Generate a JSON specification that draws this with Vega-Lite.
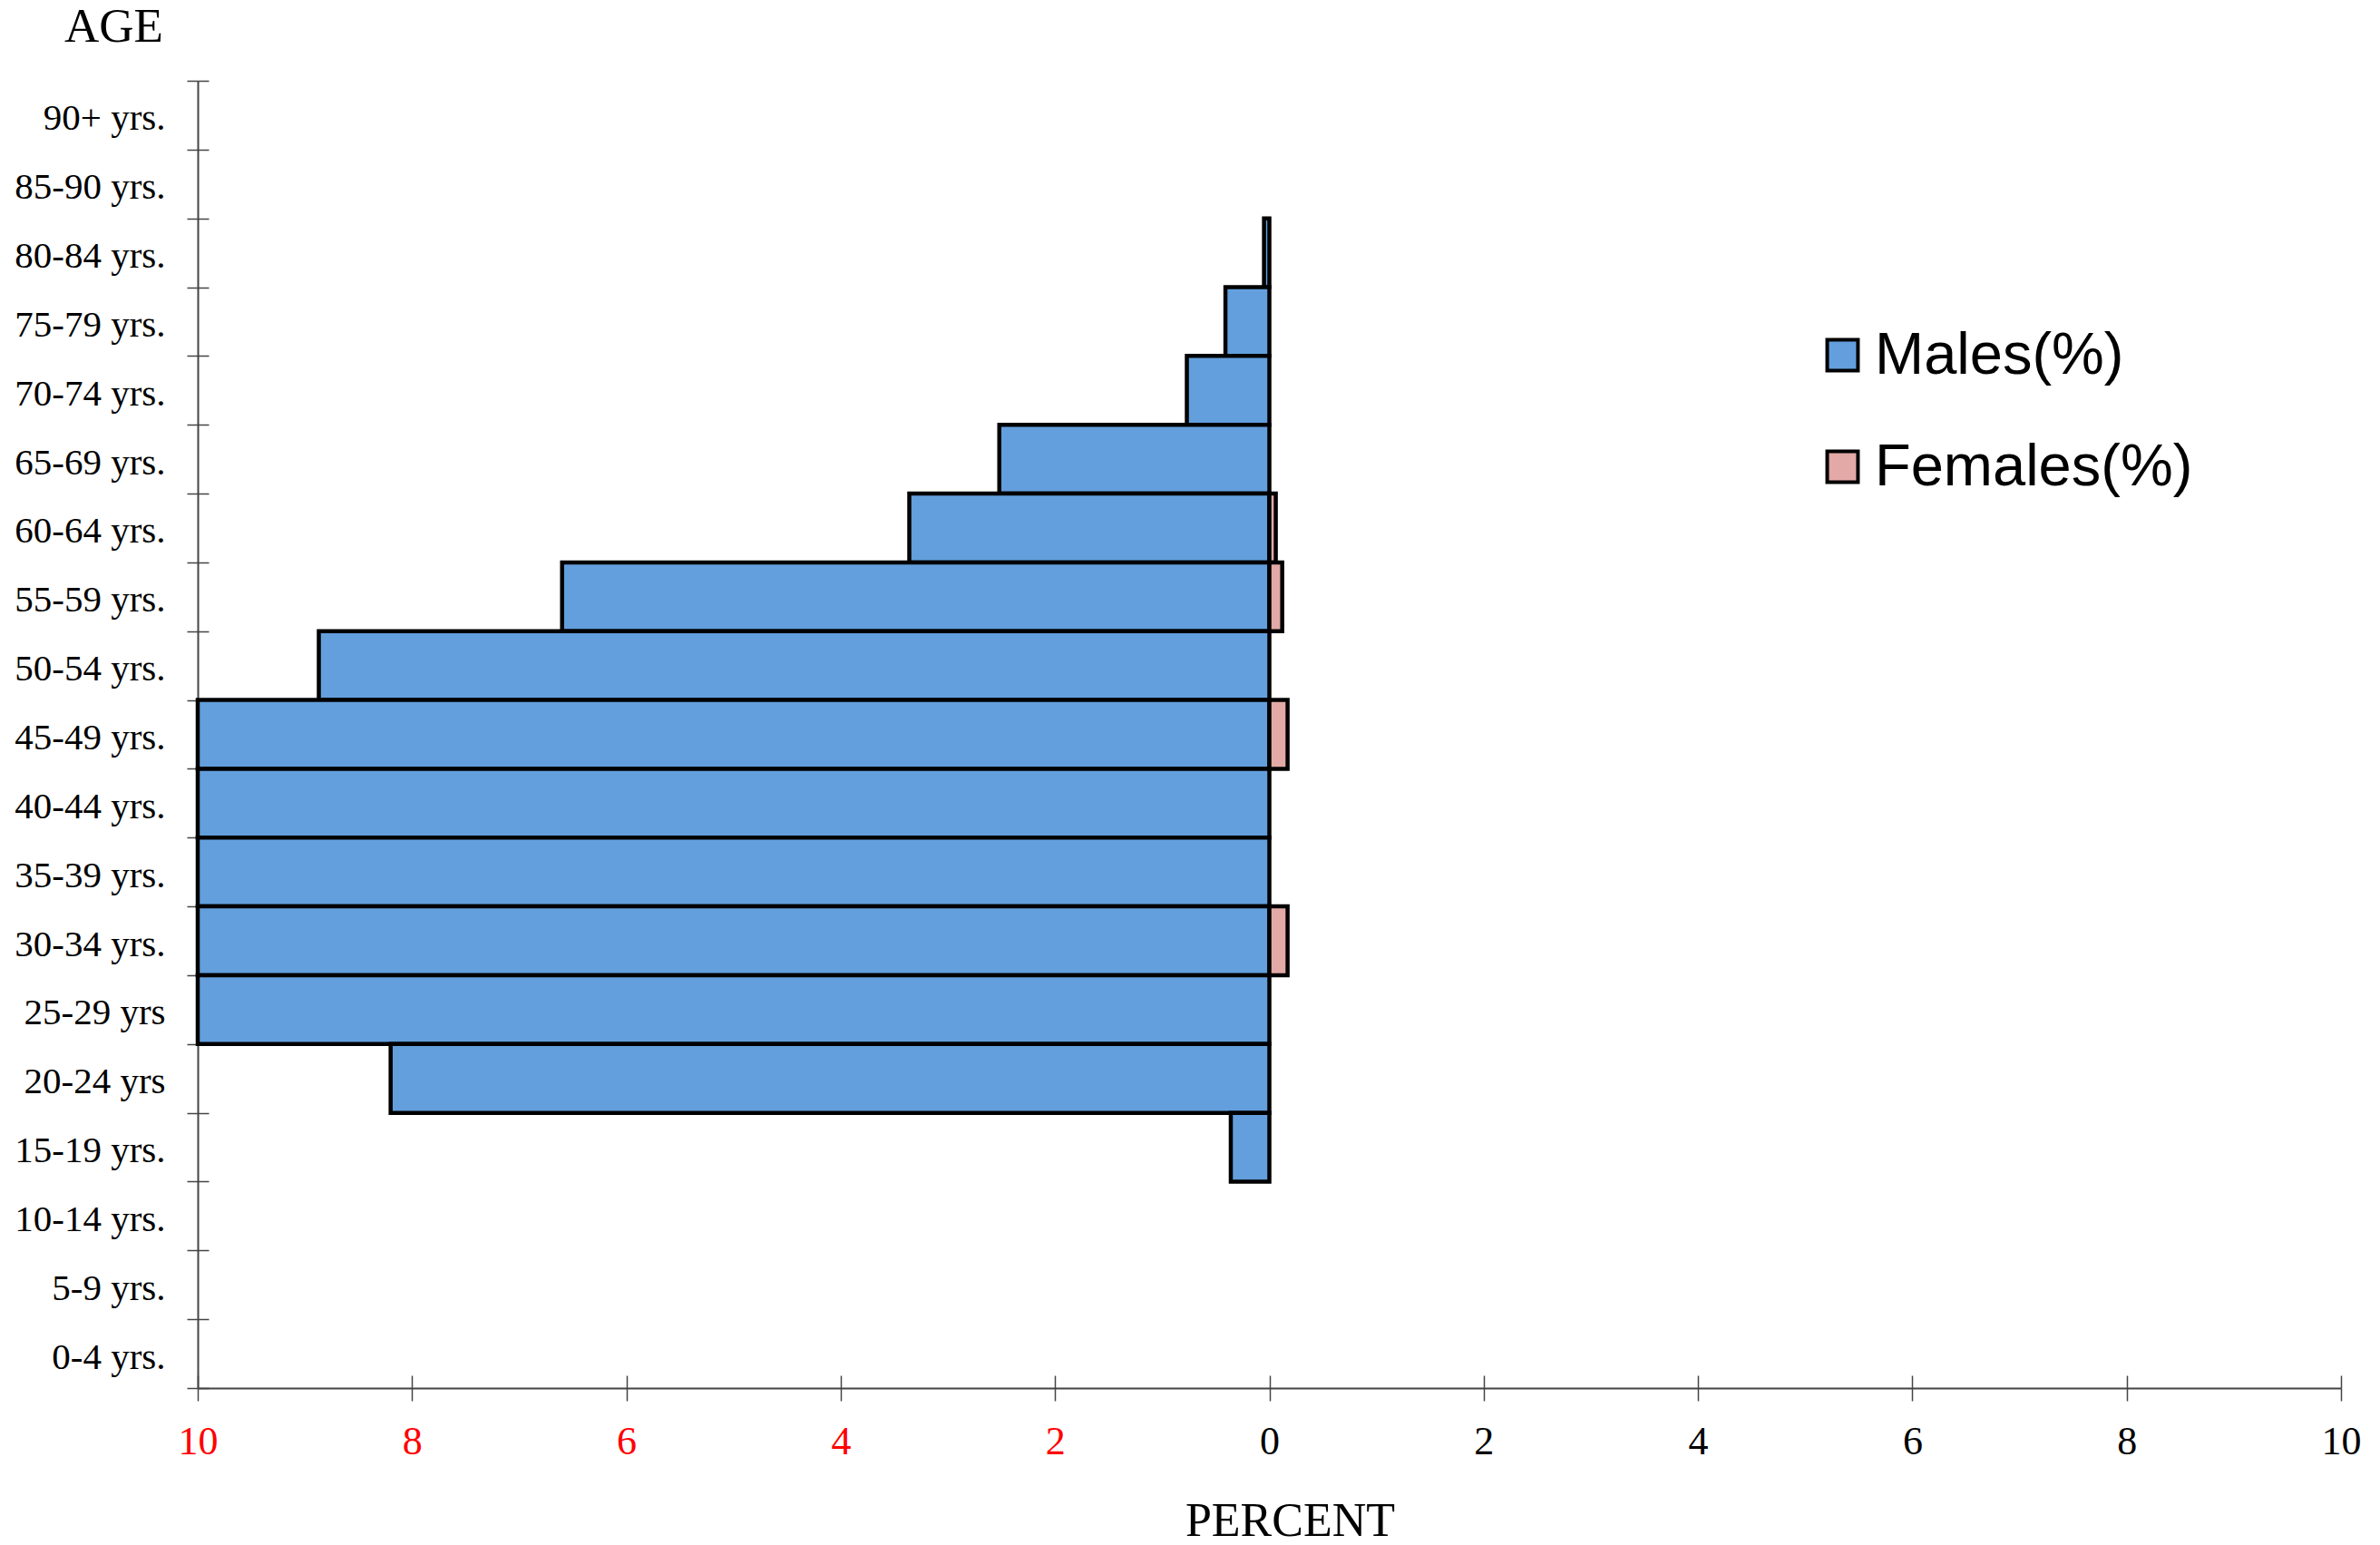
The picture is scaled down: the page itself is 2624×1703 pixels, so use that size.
{
  "$schema": "https://vega.github.io/schema/vega-lite/v6.json",
  "width": 2363,
  "height": 1441,
  "autosize": {"type": "none"},
  "padding": {"left": 218, "top": 89, "right": 43, "bottom": 173},
  "background": "white",
  "config": {"view": {"stroke": null}, "font": "Liberation Serif"},
  "data": {
    "values": [
      {"age": "80-84 yrs.", "sex": "Males(%)", "value": -0.05},
      {"age": "75-79 yrs.", "sex": "Males(%)", "value": -0.41},
      {"age": "70-74 yrs.", "sex": "Males(%)", "value": -0.77},
      {"age": "65-69 yrs.", "sex": "Males(%)", "value": -2.52},
      {"age": "60-64 yrs.", "sex": "Males(%)", "value": -3.36},
      {"age": "55-59 yrs.", "sex": "Males(%)", "value": -6.6},
      {"age": "50-54 yrs.", "sex": "Males(%)", "value": -8.87},
      {"age": "45-49 yrs.", "sex": "Males(%)", "value": -10},
      {"age": "40-44 yrs.", "sex": "Males(%)", "value": -10},
      {"age": "35-39 yrs.", "sex": "Males(%)", "value": -10},
      {"age": "30-34 yrs.", "sex": "Males(%)", "value": -10},
      {"age": "25-29 yrs", "sex": "Males(%)", "value": -10},
      {"age": "20-24 yrs", "sex": "Males(%)", "value": -8.2},
      {"age": "15-19 yrs.", "sex": "Males(%)", "value": -0.36},
      {"age": "60-64 yrs.", "sex": "Females(%)", "value": 0.06},
      {"age": "55-59 yrs.", "sex": "Females(%)", "value": 0.12},
      {"age": "45-49 yrs.", "sex": "Females(%)", "value": 0.17},
      {"age": "30-34 yrs.", "sex": "Females(%)", "value": 0.17}
    ]
  },
  "layer": [
    {
      "mark": {"type": "bar", "stroke": "black", "strokeWidth": 4.5, "orient": "horizontal"},
      "encoding": {
        "y": {
          "field": "age", "type": "nominal",
          "scale": {
            "domain": ["90+ yrs.", "85-90 yrs.", "80-84 yrs.", "75-79 yrs.", "70-74 yrs.", "65-69 yrs.", "60-64 yrs.", "55-59 yrs.", "50-54 yrs.", "45-49 yrs.", "40-44 yrs.", "35-39 yrs.", "30-34 yrs.", "25-29 yrs", "20-24 yrs", "15-19 yrs.", "10-14 yrs.", "5-9 yrs.", "0-4 yrs."],
            "paddingInner": 0, "paddingOuter": 0
          },
          "axis": {
            "title": "AGE", "titleAngle": 0, "titleX": -93, "titleY": -60,
            "titleAlign": "center", "titleBaseline": "middle",
            "titleFontSize": 53, "titleFontWeight": "normal", "titleFont": "Liberation Serif",
            "labelFontSize": 41, "labelFont": "Liberation Serif", "labelColor": "black",
            "labelPadding": 24, "labelOffset": 4, "tickSize": 12, "tickBand": "extent",
            "tickColor": "#444", "tickWidth": 1.5, "domainColor": "#444", "domainWidth": 2,
            "grid": false
          }
        },
        "x": {
          "field": "value", "type": "quantitative", "stack": null,
          "scale": {"domain": [-10, 10], "nice": false},
          "axis": {
            "title": "PERCENT", "titleX": 1204, "titleY": 146,
            "titleAlign": "center", "titleBaseline": "middle",
            "titleFontSize": 52, "titleFontWeight": "normal", "titleFont": "Liberation Serif",
            "values": [-10, -8, -6, -4, -2, 0, 2, 4, 6, 8, 10],
            "labelExpr": "format(abs(datum.value), 'd')",
            "labelColor": {"condition": {"test": "datum.value < 0", "value": "red"}, "value": "black"},
            "labelFontSize": 44, "labelFont": "Liberation Serif",
            "labelPadding": 23, "tickSize": 14,
            "tickColor": "#444", "tickWidth": 1.5, "domainColor": "#444", "domainWidth": 2,
            "grid": false, "labelFlush": false
          }
        },
        "color": {
          "field": "sex", "type": "nominal",
          "scale": {"domain": ["Males(%)", "Females(%)"], "range": ["#639FDC", "#E2A9A7"]},
          "legend": {
            "orient": "none", "legendX": 1781, "legendY": 270, "title": null,
            "symbolType": "square", "symbolSize": 1150, "symbolStrokeColor": "black",
            "symbolStrokeWidth": 4, "labelFontSize": 65, "labelFont": "Liberation Sans",
            "labelColor": "black", "rowPadding": 57, "labelOffset": 3, "labelLimit": 600
          }
        }
      }
    },
    {
      "mark": {"type": "bar", "opacity": 0},
      "encoding": {
        "y": {
          "field": "age", "type": "nominal",
          "axis": {"orient": "left", "labels": false, "domain": false, "tickSize": -12, "tickBand": "extent", "tickColor": "#444", "tickWidth": 1.5, "title": null, "grid": false}
        },
        "x": {
          "field": "value", "type": "quantitative", "stack": null,
          "axis": {"orient": "bottom", "labels": false, "domain": false, "tickSize": -14, "tickColor": "#444", "tickWidth": 1.5, "title": null, "grid": false, "values": [-10, -8, -6, -4, -2, 0, 2, 4, 6, 8, 10]}
        }
      }
    }
  ],
  "resolve": {"axis": {"x": "independent", "y": "independent"}}
}
